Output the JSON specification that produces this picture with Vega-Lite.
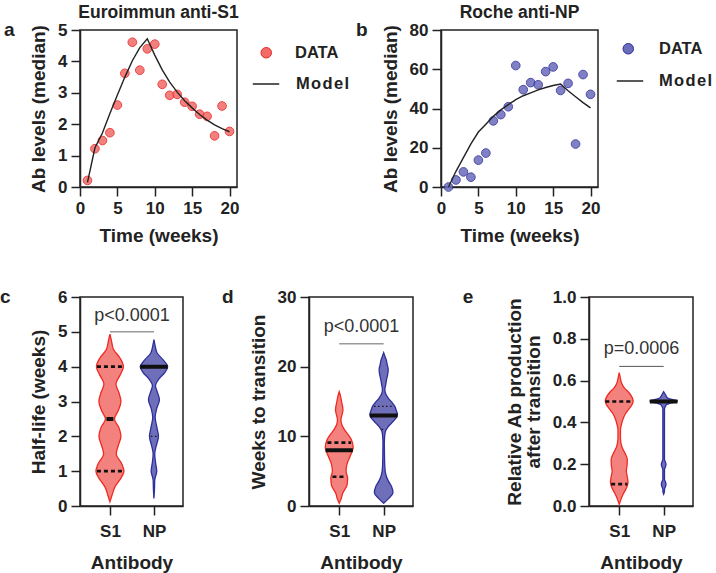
{
  "$schema": "https://vega.github.io/schema/vega-lite/v6.json",
  "background": "white",
  "padding": {"left": -1, "top": 2, "right": 5, "bottom": 5},
  "bounds": "full",
  "align": "none",
  "spacing": 41,
  "resolve": {"scale": {"fill": "independent", "stroke": "independent"}, "legend": {"fill": "independent", "stroke": "independent"}},
  "config": {
    "font": "Liberation Sans",
    "view": {"stroke": "#222", "strokeWidth": 1.5},
    "axis": {
      "domainColor": "#222", "domainWidth": 1.5, "tickColor": "#222", "tickWidth": 1.5, "tickSize": 9,
      "labelFont": "Liberation Sans", "labelFontWeight": "bold", "labelFontSize": 17, "labelColor": "#222",
      "titleFont": "Liberation Sans", "titleFontWeight": "bold", "titleFontSize": 19, "titleColor": "#222",
      "grid": false, "labelPadding": 4, "titlePadding": 9, "labelOverlap": false, "labelFlush": false, "tickCount": 50
    },
    "axisY": {"labelPadding": 4},
    "legend": {"labelFont": "Liberation Sans", "labelFontWeight": "bold", "labelFontSize": 16.5, "labelColor": "#222", "padding": 0}
  },
  "datasets": {
    "a_data": [
      {"t":1,"y":0.21,"series":"DATA"},{"t":2,"y":1.22,"series":"DATA"},{"t":3,"y":1.48,"series":"DATA"},{"t":4,"y":1.73,"series":"DATA"},
      {"t":5,"y":2.61,"series":"DATA"},{"t":6,"y":3.62,"series":"DATA"},{"t":7,"y":4.61,"series":"DATA"},{"t":8,"y":3.72,"series":"DATA"},
      {"t":9,"y":4.40,"series":"DATA"},{"t":10,"y":4.55,"series":"DATA"},{"t":11,"y":3.27,"series":"DATA"},{"t":12,"y":2.92,"series":"DATA"},
      {"t":13,"y":2.95,"series":"DATA"},{"t":14,"y":2.70,"series":"DATA"},{"t":15,"y":2.57,"series":"DATA"},{"t":16,"y":2.32,"series":"DATA"},
      {"t":17,"y":2.25,"series":"DATA"},{"t":18,"y":1.63,"series":"DATA"},{"t":19,"y":2.58,"series":"DATA"},{"t":20,"y":1.77,"series":"DATA"}
    ],
    "a_model": [
      {"t":1,"y":0.15,"series":"Model"},{"t":2,"y":1.25,"series":"Model"},{"t":3,"y":1.72,"series":"Model"},{"t":4,"y":2.34,"series":"Model"},
      {"t":5,"y":2.93,"series":"Model"},{"t":6,"y":3.5,"series":"Model"},{"t":7,"y":4.02,"series":"Model"},{"t":8,"y":4.44,"series":"Model"},
      {"t":9,"y":4.72,"series":"Model"},{"t":10,"y":4.2,"series":"Model"},{"t":11,"y":3.73,"series":"Model"},{"t":12,"y":3.34,"series":"Model"},
      {"t":13,"y":3.02,"series":"Model"},{"t":14,"y":2.75,"series":"Model"},{"t":15,"y":2.52,"series":"Model"},{"t":16,"y":2.31,"series":"Model"},
      {"t":17,"y":2.13,"series":"Model"},{"t":18,"y":1.98,"series":"Model"},{"t":19,"y":1.86,"series":"Model"},{"t":20,"y":1.76,"series":"Model"}
    ],
    "b_data": [
      {"t":1,"y":0,"series":"DATA"},{"t":2,"y":3.6,"series":"DATA"},{"t":3,"y":7.7,"series":"DATA"},{"t":4,"y":5.0,"series":"DATA"},
      {"t":5,"y":13.7,"series":"DATA"},{"t":6,"y":17.3,"series":"DATA"},{"t":7,"y":33.7,"series":"DATA"},{"t":8,"y":36.9,"series":"DATA"},
      {"t":9,"y":40.9,"series":"DATA"},{"t":10,"y":61.9,"series":"DATA"},{"t":11,"y":49.6,"series":"DATA"},{"t":12,"y":53.2,"series":"DATA"},
      {"t":13,"y":52.1,"series":"DATA"},{"t":14,"y":58.8,"series":"DATA"},{"t":15,"y":61.2,"series":"DATA"},{"t":16,"y":49.2,"series":"DATA"},
      {"t":17,"y":52.8,"series":"DATA"},{"t":18,"y":21.9,"series":"DATA"},{"t":19,"y":57.3,"series":"DATA"},{"t":20,"y":47.2,"series":"DATA"}
    ],
    "b_model": [
      {"t":1,"y":0,"series":"Model"},{"t":2,"y":8,"series":"Model"},{"t":3,"y":15,"series":"Model"},{"t":4,"y":22,"series":"Model"},
      {"t":5,"y":28,"series":"Model"},{"t":6,"y":32,"series":"Model"},{"t":7,"y":36,"series":"Model"},{"t":8,"y":39.3,"series":"Model"},
      {"t":9,"y":42,"series":"Model"},{"t":10,"y":44.5,"series":"Model"},{"t":11,"y":46.5,"series":"Model"},{"t":12,"y":48,"series":"Model"},
      {"t":13,"y":49.5,"series":"Model"},{"t":14,"y":50.7,"series":"Model"},{"t":15,"y":51.7,"series":"Model"},{"t":16,"y":52.5,"series":"Model"},
      {"t":17,"y":49,"series":"Model"},{"t":18,"y":46,"series":"Model"},{"t":19,"y":43,"series":"Model"},{"t":20,"y":40.3,"series":"Model"}
    ],
    "c_violin": [
      {"ab":"S1","v":0.12,"density":0},{"ab":"S1","v":0.3,"density":2},{"ab":"S1","v":0.55,"density":5},{"ab":"S1","v":0.8,"density":11},
      {"ab":"S1","v":1.0,"density":14},{"ab":"S1","v":1.2,"density":12},{"ab":"S1","v":1.5,"density":6.3},{"ab":"S1","v":1.75,"density":8.5},
      {"ab":"S1","v":2.0,"density":11},{"ab":"S1","v":2.25,"density":9},{"ab":"S1","v":2.5,"density":4.5},{"ab":"S1","v":2.75,"density":8.5},
      {"ab":"S1","v":3.0,"density":11},{"ab":"S1","v":3.25,"density":9},{"ab":"S1","v":3.5,"density":6},{"ab":"S1","v":3.75,"density":10},
      {"ab":"S1","v":4.0,"density":13.5},{"ab":"S1","v":4.25,"density":10},{"ab":"S1","v":4.5,"density":3.5},{"ab":"S1","v":4.75,"density":1.5},
      {"ab":"S1","v":4.93,"density":0},
      {"ab":"NP","v":0.22,"density":0},{"ab":"NP","v":0.45,"density":0.5},{"ab":"NP","v":0.75,"density":0.8},{"ab":"NP","v":1.0,"density":2.8},
      {"ab":"NP","v":1.25,"density":1.6},{"ab":"NP","v":1.5,"density":0.8},{"ab":"NP","v":1.75,"density":2.5},{"ab":"NP","v":2.0,"density":4.5},
      {"ab":"NP","v":2.25,"density":3},{"ab":"NP","v":2.55,"density":1.2},{"ab":"NP","v":2.8,"density":2.8},{"ab":"NP","v":3.05,"density":5.5},
      {"ab":"NP","v":3.3,"density":3},{"ab":"NP","v":3.45,"density":1.5},{"ab":"NP","v":3.65,"density":5},{"ab":"NP","v":3.83,"density":10.8},
      {"ab":"NP","v":4.0,"density":13.7},{"ab":"NP","v":4.2,"density":9},{"ab":"NP","v":4.4,"density":3},{"ab":"NP","v":4.6,"density":1.2},
      {"ab":"NP","v":4.78,"density":0}
    ],
    "c_stats": [
      {"ab":"S1","v":2.5,"density":3.5,"stat":"median"},{"ab":"S1","v":1.0,"density":13,"stat":"dash"},{"ab":"S1","v":4.0,"density":13,"stat":"dash"},
      {"ab":"NP","v":4.0,"density":13.7,"stat":"median"},{"ab":"NP","v":2.0,"density":3,"stat":"dot"}
    ],
    "d_violin": [
      {"ab":"S1","v":0.4,"density":0},{"ab":"S1","v":1.0,"density":1.8},{"ab":"S1","v":1.8,"density":3.3},{"ab":"S1","v":3.0,"density":7.7},
      {"ab":"S1","v":4.0,"density":8.3},{"ab":"S1","v":5.0,"density":6.8},{"ab":"S1","v":6.0,"density":7.7},{"ab":"S1","v":7.2,"density":11},
      {"ab":"S1","v":8.4,"density":13.8},{"ab":"S1","v":9.6,"density":11.7},{"ab":"S1","v":10.4,"density":8},{"ab":"S1","v":11.0,"density":5},
      {"ab":"S1","v":11.7,"density":2.5},{"ab":"S1","v":12.4,"density":1.7},{"ab":"S1","v":13.1,"density":2.8},{"ab":"S1","v":13.8,"density":3.7},
      {"ab":"S1","v":15.0,"density":2.3},{"ab":"S1","v":15.8,"density":1.2},{"ab":"S1","v":16.4,"density":0},
      {"ab":"NP","v":0.4,"density":0},{"ab":"NP","v":1.1,"density":5},{"ab":"NP","v":1.9,"density":9.2},{"ab":"NP","v":2.8,"density":7.8},
      {"ab":"NP","v":3.5,"density":5},{"ab":"NP","v":4.2,"density":2.8},{"ab":"NP","v":5.0,"density":1.5},{"ab":"NP","v":6.1,"density":1},
      {"ab":"NP","v":7.5,"density":0.8},{"ab":"NP","v":9.0,"density":0.7},{"ab":"NP","v":10.0,"density":1},{"ab":"NP","v":10.7,"density":1.7},
      {"ab":"NP","v":11.3,"density":4},{"ab":"NP","v":11.9,"density":7.8},{"ab":"NP","v":12.5,"density":11.5},{"ab":"NP","v":13.1,"density":13.7},
      {"ab":"NP","v":13.7,"density":12.5},{"ab":"NP","v":14.3,"density":11},{"ab":"NP","v":14.9,"density":8},{"ab":"NP","v":15.5,"density":4.5},
      {"ab":"NP","v":16.1,"density":2},{"ab":"NP","v":16.7,"density":1.2},{"ab":"NP","v":17.4,"density":2},{"ab":"NP","v":18.1,"density":2.8},
      {"ab":"NP","v":18.9,"density":4},{"ab":"NP","v":19.6,"density":4.5},{"ab":"NP","v":20.3,"density":3.5},{"ab":"NP","v":21.0,"density":2.5},
      {"ab":"NP","v":21.5,"density":1.2},{"ab":"NP","v":22.0,"density":0}
    ],
    "d_stats": [
      {"ab":"S1","v":8.0,"density":13.5,"stat":"median"},{"ab":"S1","v":9.1,"density":11.7,"stat":"dash"},{"ab":"S1","v":4.2,"density":6.7,"stat":"dash"},
      {"ab":"NP","v":13.0,"density":13.7,"stat":"median"},{"ab":"NP","v":14.3,"density":9.5,"stat":"dot"},{"ab":"NP","v":11.0,"density":2,"stat":"dot"}
    ],
    "e_violin": [
      {"ab":"S1","v":0.008,"density":0},{"ab":"S1","v":0.056,"density":3.8},{"ab":"S1","v":0.085,"density":7},{"ab":"S1","v":0.112,"density":8.7},
      {"ab":"S1","v":0.14,"density":8},{"ab":"S1","v":0.167,"density":7},{"ab":"S1","v":0.195,"density":7.8},{"ab":"S1","v":0.223,"density":8},
      {"ab":"S1","v":0.25,"density":6},{"ab":"S1","v":0.271,"density":3.7},{"ab":"S1","v":0.295,"density":2},{"ab":"S1","v":0.319,"density":1.3},
      {"ab":"S1","v":0.343,"density":1.2},{"ab":"S1","v":0.367,"density":1.3},{"ab":"S1","v":0.39,"density":2.2},{"ab":"S1","v":0.415,"density":3.7},
      {"ab":"S1","v":0.44,"density":6},{"ab":"S1","v":0.463,"density":9.5},{"ab":"S1","v":0.483,"density":12.5},{"ab":"S1","v":0.502,"density":13.8},
      {"ab":"S1","v":0.522,"density":12.5},{"ab":"S1","v":0.543,"density":9.5},{"ab":"S1","v":0.565,"density":5},{"ab":"S1","v":0.59,"density":2.2},
      {"ab":"S1","v":0.615,"density":1},{"ab":"S1","v":0.638,"density":0},
      {"ab":"NP","v":0.056,"density":0},{"ab":"NP","v":0.07,"density":0.8},{"ab":"NP","v":0.08,"density":0.8},{"ab":"NP","v":0.092,"density":1.7},
      {"ab":"NP","v":0.104,"density":2.3},{"ab":"NP","v":0.116,"density":1.7},{"ab":"NP","v":0.128,"density":0.8},{"ab":"NP","v":0.175,"density":0.8},
      {"ab":"NP","v":0.187,"density":1.7},{"ab":"NP","v":0.199,"density":2.3},{"ab":"NP","v":0.211,"density":1.7},{"ab":"NP","v":0.223,"density":0.8},
      {"ab":"NP","v":0.463,"density":0.8},{"ab":"NP","v":0.478,"density":1.8},{"ab":"NP","v":0.486,"density":3},{"ab":"NP","v":0.493,"density":7},
      {"ab":"NP","v":0.502,"density":13.7},{"ab":"NP","v":0.511,"density":7},{"ab":"NP","v":0.518,"density":3.5},{"ab":"NP","v":0.526,"density":2.5},
      {"ab":"NP","v":0.537,"density":1.2},{"ab":"NP","v":0.547,"density":0}
    ],
    "e_stats": [
      {"ab":"S1","v":0.5,"density":13.8,"stat":"dash"},{"ab":"S1","v":0.105,"density":8,"stat":"dash"},
      {"ab":"NP","v":0.5,"density":13.7,"stat":"median"}
    ]
  },
  "vconcat": [
    {
      "bounds": "flush",
      "spacing": 204,
      "resolve": {"scale": {"fill": "independent", "stroke": "independent"}, "legend": {"fill": "independent", "stroke": "independent"}},
      "hconcat": [
        {
          "width": 157, "height": 157,
          "title": {"text": "Euroimmun anti-S1", "frame": "group", "anchor": "middle", "fontSize": 17.5, "fontWeight": "bold", "font": "Liberation Sans", "color": "#222", "offset": 0},
          "layer": [
            {
              "data": {"name": "a_data"},
              "mark": {"type": "point", "filled": true, "size": 75, "stroke": "#e8251f", "strokeWidth": 1, "opacity": 0.85},
              "encoding": {
                "x": {"field": "t", "type": "quantitative", "scale": {"domain": [0, 21], "nice": false}, "axis": {"values": [0, 5, 10, 15, 20], "format": "d", "tickCount": 50, "title": "Time (weeks)", "titlePadding": 10}},
                "y": {"field": "y", "type": "quantitative", "scale": {"domain": [0, 5], "nice": false}, "axis": {"values": [0, 1, 2, 3, 4, 5], "format": "d", "tickCount": 50, "title": "Ab levels (median)"}},
                "fill": {
                  "field": "series", "type": "nominal",
                  "scale": {"domain": ["DATA"], "range": ["#f26b68"]},
                  "legend": {"title": null, "orient": "none", "legendX": 178, "legendY": 14.5, "symbolType": "circle", "symbolSize": 110, "symbolStrokeColor": "#e8251f", "symbolStrokeWidth": 1, "symbolOpacity": 1, "labelOffset": 20.5}
                }
              }
            },
            {
              "data": {"name": "a_model"},
              "mark": {"type": "line", "strokeWidth": 1.4},
              "encoding": {
                "x": {"field": "t", "type": "quantitative"},
                "y": {"field": "y", "type": "quantitative"},
                "stroke": {
                  "field": "series", "type": "nominal",
                  "scale": {"domain": ["Model"], "range": ["#222222"]},
                  "legend": {"title": null, "orient": "none", "legendX": 172, "legendY": 40, "symbolType": "stroke", "symbolSize": 700, "symbolStrokeWidth": 1.5, "labelOffset": 16, "labelExpr": "datum.label == 'Model' ? 'M\u200Ao\u200Ad\u200Ae\u200Al' : datum.label"}
                }
              }
            },
            {
              "data": {"values": [{"label": "a"}]},
              "mark": {"type": "text", "font": "Liberation Sans", "fontWeight": "bold", "fontSize": 19, "align": "left", "baseline": "middle", "color": "#222"},
              "encoding": {"x": {"datum": -10.17}, "y": {"datum": 5}, "text": {"field": "label"}}
            }
          ]
        },
        {
          "width": 157, "height": 157,
          "title": {"text": "Roche anti-NP", "frame": "group", "anchor": "middle", "fontSize": 17.5, "fontWeight": "bold", "font": "Liberation Sans", "color": "#222", "offset": 0},
          "layer": [
            {
              "data": {"name": "b_data"},
              "mark": {"type": "point", "filled": true, "size": 75, "stroke": "#2e2e9a", "strokeWidth": 1, "opacity": 0.85},
              "encoding": {
                "x": {"field": "t", "type": "quantitative", "scale": {"domain": [0, 21], "nice": false}, "axis": {"values": [0, 5, 10, 15, 20], "format": "d", "tickCount": 50, "title": "Time (weeks)", "titlePadding": 10}},
                "y": {"field": "y", "type": "quantitative", "scale": {"domain": [0, 80], "nice": false}, "axis": {"values": [0, 20, 40, 60, 80], "format": "d", "tickCount": 50, "title": "Ab levels (median)"}},
                "fill": {
                  "field": "series", "type": "nominal",
                  "scale": {"domain": ["DATA"], "range": ["#6b6cbb"]},
                  "legend": {"title": null, "orient": "none", "legendX": 179, "legendY": 10.5, "symbolType": "circle", "symbolSize": 110, "symbolStrokeColor": "#2e2e9a", "symbolStrokeWidth": 1, "symbolOpacity": 1, "labelOffset": 22.5}
                }
              }
            },
            {
              "data": {"name": "b_model"},
              "mark": {"type": "line", "strokeWidth": 1.4},
              "encoding": {
                "x": {"field": "t", "type": "quantitative"},
                "y": {"field": "y", "type": "quantitative"},
                "stroke": {
                  "field": "series", "type": "nominal",
                  "scale": {"domain": ["Model"], "range": ["#222222"]},
                  "legend": {"title": null, "orient": "none", "legendX": 175, "legendY": 37, "symbolType": "stroke", "symbolSize": 700, "symbolStrokeWidth": 1.5, "labelOffset": 15, "labelExpr": "datum.label == 'Model' ? 'M\u200Ao\u200Ad\u200Ae\u200Al' : datum.label"}
                }
              }
            },
            {
              "data": {"values": [{"label": "b"}]},
              "mark": {"type": "text", "font": "Liberation Sans", "fontWeight": "bold", "fontSize": 19, "align": "left", "baseline": "middle", "color": "#222"},
              "encoding": {"x": {"datum": -11.37}, "y": {"datum": 80}, "text": {"field": "label"}}
            }
          ]
        }
      ]
    },
    {
      "bounds": "flush",
      "spacing": 126,
      "hconcat": [
        {
          "width": 103, "height": 209,
          "layer": [
            {
              "data": {"name": "c_violin"},
              "transform": [
                {"calculate": "(datum.ab == 'S1' ? 1 : 2) - datum.density / 44", "as": "lo"},
                {"calculate": "(datum.ab == 'S1' ? 1 : 2) + datum.density / 44", "as": "hi"}
              ],
              "mark": {"type": "area", "orient": "horizontal", "interpolate": "monotone", "strokeWidth": 1.3},
              "encoding": {
                "y": {"field": "v", "type": "quantitative", "scale": {"domain": [0, 6], "nice": false}, "axis": {"values": [0, 1, 2, 3, 4, 5, 6], "format": "d", "tickCount": 50, "title": "Half-life (weeks)"}},
                "x": {"field": "lo", "type": "quantitative", "scale": {"domain": [0.32, 2.66], "nice": false, "zero": false}, "axis": {"values": [1, 2], "tickCount": 50, "labelExpr": "datum.value == 1 ? 'S1' : 'NP'", "title": "Antibody", "titlePadding": 14, "labelPadding": 8}},
                "x2": {"field": "hi"},
                "fill": {"field": "ab", "type": "nominal", "scale": {"domain": ["S1", "NP"], "range": ["#f3827e", "#6e6fb8"]}, "legend": null},
                "stroke": {"field": "ab", "type": "nominal", "scale": {"domain": ["S1", "NP"], "range": ["#ef2a22", "#2d2f9c"]}, "legend": null}
              }
            },
            {
              "data": {"name": "c_stats"},
              "transform": [
                {"calculate": "(datum.ab == 'S1' ? 1 : 2) - datum.density / 44", "as": "lo"},
                {"calculate": "(datum.ab == 'S1' ? 1 : 2) + datum.density / 44", "as": "hi"}
              ],
              "mark": {"type": "rule", "color": "#111", "strokeCap": "butt"},
              "encoding": {
                "y": {"field": "v", "type": "quantitative"},
                "x": {"field": "lo", "type": "quantitative"},
                "x2": {"field": "hi"},
                "strokeWidth": {"field": "stat", "type": "ordinal", "scale": {"domain": ["median", "dash", "dot"], "range": [4, 1.3, 1.3]}, "legend": null},
                "strokeDash": {"field": "stat", "type": "nominal", "scale": {"domain": ["median", "dash", "dot"], "range": [[1, 0], [4, 3], [1.5, 2.5]]}, "legend": null}
              }
            },
            {
              "data": {"values": [{"p": "p<0.0001"}]},
              "mark": {"type": "text", "font": "Liberation Sans", "fontSize": 18, "baseline": "middle", "align": "center", "color": "#333"},
              "encoding": {"x": {"datum": 1.5}, "y": {"datum": 5.45}, "text": {"field": "p"}}
            },
            {
              "data": {"values": [{}]},
              "mark": {"type": "rule", "color": "#999", "strokeWidth": 1.5},
              "encoding": {"x": {"datum": 1}, "x2": {"datum": 2}, "y": {"datum": 5.0}}
            },
            {
              "data": {"values": [{"label": "c"}]},
              "mark": {"type": "text", "font": "Liberation Sans", "fontWeight": "bold", "fontSize": 19, "align": "left", "baseline": "middle", "color": "#222"},
              "encoding": {"x": {"datum": -1.5}, "y": {"datum": 6}, "text": {"field": "label"}}
            }
          ]
        },
        {
          "bounds": "flush",
          "spacing": 176,
          "hconcat": [
            {
              "width": 104, "height": 209,
              "layer": [
                {
                  "data": {"name": "d_violin"},
                  "transform": [
                    {"calculate": "(datum.ab == 'S1' ? 1 : 2) - datum.density / 44", "as": "lo"},
                    {"calculate": "(datum.ab == 'S1' ? 1 : 2) + datum.density / 44", "as": "hi"}
                  ],
                  "mark": {"type": "area", "orient": "horizontal", "interpolate": "monotone", "strokeWidth": 1.3},
                  "encoding": {
                    "y": {"field": "v", "type": "quantitative", "scale": {"domain": [0, 30], "nice": false}, "axis": {"values": [0, 10, 20, 30], "format": "d", "tickCount": 50, "title": "Weeks to transition"}},
                    "x": {"field": "lo", "type": "quantitative", "scale": {"domain": [0.32, 2.66], "nice": false, "zero": false}, "axis": {"values": [1, 2], "tickCount": 50, "labelExpr": "datum.value == 1 ? 'S1' : 'NP'", "title": "Antibody", "titlePadding": 14, "labelPadding": 8}},
                    "x2": {"field": "hi"},
                    "fill": {"field": "ab", "type": "nominal", "scale": {"domain": ["S1", "NP"], "range": ["#f3827e", "#6e6fb8"]}, "legend": null},
                    "stroke": {"field": "ab", "type": "nominal", "scale": {"domain": ["S1", "NP"], "range": ["#ef2a22", "#2d2f9c"]}, "legend": null}
                  }
                },
                {
                  "data": {"name": "d_stats"},
                  "transform": [
                    {"calculate": "(datum.ab == 'S1' ? 1 : 2) - datum.density / 44", "as": "lo"},
                    {"calculate": "(datum.ab == 'S1' ? 1 : 2) + datum.density / 44", "as": "hi"}
                  ],
                  "mark": {"type": "rule", "color": "#111", "strokeCap": "butt"},
                  "encoding": {
                    "y": {"field": "v", "type": "quantitative"},
                    "x": {"field": "lo", "type": "quantitative"},
                    "x2": {"field": "hi"},
                    "strokeWidth": {"field": "stat", "type": "ordinal", "scale": {"domain": ["median", "dash", "dot"], "range": [4, 1.3, 1.3]}, "legend": null},
                    "strokeDash": {"field": "stat", "type": "nominal", "scale": {"domain": ["median", "dash", "dot"], "range": [[1, 0], [4, 3], [1.5, 2.5]]}, "legend": null}
                  }
                },
                {
                  "data": {"values": [{"p": "p<0.0001"}]},
                  "mark": {"type": "text", "font": "Liberation Sans", "fontSize": 18, "baseline": "middle", "align": "center", "color": "#333"},
                  "encoding": {"x": {"datum": 1.5}, "y": {"datum": 25.7}, "text": {"field": "p"}}
                },
                {
                  "data": {"values": [{}]},
                  "mark": {"type": "rule", "color": "#999", "strokeWidth": 1.5},
                  "encoding": {"x": {"datum": 1}, "x2": {"datum": 2}, "y": {"datum": 23.3}}
                },
                {
                  "data": {"values": [{"label": "d"}]},
                  "mark": {"type": "text", "font": "Liberation Sans", "fontWeight": "bold", "fontSize": 19, "align": "left", "baseline": "middle", "color": "#222"},
                  "encoding": {"x": {"datum": -1.635}, "y": {"datum": 30}, "text": {"field": "label"}}
                }
              ]
            },
            {
              "width": 104, "height": 209,
              "layer": [
                {
                  "data": {"name": "e_violin"},
                  "transform": [
                    {"calculate": "(datum.ab == 'S1' ? 1 : 2) - datum.density / 44", "as": "lo"},
                    {"calculate": "(datum.ab == 'S1' ? 1 : 2) + datum.density / 44", "as": "hi"}
                  ],
                  "mark": {"type": "area", "orient": "horizontal", "interpolate": "monotone", "strokeWidth": 1.3},
                  "encoding": {
                    "y": {"field": "v", "type": "quantitative", "scale": {"domain": [0, 1], "nice": false}, "axis": {"values": [0, 0.2, 0.4, 0.6, 0.8, 1.0], "tickCount": 50, "format": ".1f", "title": ["Relative Ab  production", "after transition"], "titleLineHeight": 19}},
                    "x": {"field": "lo", "type": "quantitative", "scale": {"domain": [0.32, 2.66], "nice": false, "zero": false}, "axis": {"values": [1, 2], "tickCount": 50, "labelExpr": "datum.value == 1 ? 'S1' : 'NP'", "title": "Antibody", "titlePadding": 14, "labelPadding": 8}},
                    "x2": {"field": "hi"},
                    "fill": {"field": "ab", "type": "nominal", "scale": {"domain": ["S1", "NP"], "range": ["#f3827e", "#6e6fb8"]}, "legend": null},
                    "stroke": {"field": "ab", "type": "nominal", "scale": {"domain": ["S1", "NP"], "range": ["#ef2a22", "#2d2f9c"]}, "legend": null}
                  }
                },
                {
                  "data": {"name": "e_stats"},
                  "transform": [
                    {"calculate": "(datum.ab == 'S1' ? 1 : 2) - datum.density / 44", "as": "lo"},
                    {"calculate": "(datum.ab == 'S1' ? 1 : 2) + datum.density / 44", "as": "hi"}
                  ],
                  "mark": {"type": "rule", "color": "#111", "strokeCap": "butt"},
                  "encoding": {
                    "y": {"field": "v", "type": "quantitative"},
                    "x": {"field": "lo", "type": "quantitative"},
                    "x2": {"field": "hi"},
                    "strokeWidth": {"field": "stat", "type": "ordinal", "scale": {"domain": ["median", "dash", "dot"], "range": [4, 1.3, 1.3]}, "legend": null},
                    "strokeDash": {"field": "stat", "type": "nominal", "scale": {"domain": ["median", "dash", "dot"], "range": [[1, 0], [4, 3], [1.5, 2.5]]}, "legend": null}
                  }
                },
                {
                  "data": {"values": [{"p": "p=0.0006"}]},
                  "mark": {"type": "text", "font": "Liberation Sans", "fontSize": 18, "baseline": "middle", "align": "center", "color": "#333"},
                  "encoding": {"x": {"datum": 1.5}, "y": {"datum": 0.75}, "text": {"field": "p"}}
                },
                {
                  "data": {"values": [{}]},
                  "mark": {"type": "rule", "color": "#555", "strokeWidth": 1},
                  "encoding": {"x": {"datum": 1}, "x2": {"datum": 2}, "y": {"datum": 0.668}}
                },
                {
                  "data": {"values": [{"label": "e"}]},
                  "mark": {"type": "text", "font": "Liberation Sans", "fontWeight": "bold", "fontSize": 19, "align": "left", "baseline": "middle", "color": "#222"},
                  "encoding": {"x": {"datum": -2.52}, "y": {"datum": 1}, "text": {"field": "label"}}
                }
              ]
            }
          ]
        }
      ]
    }
  ]
}
